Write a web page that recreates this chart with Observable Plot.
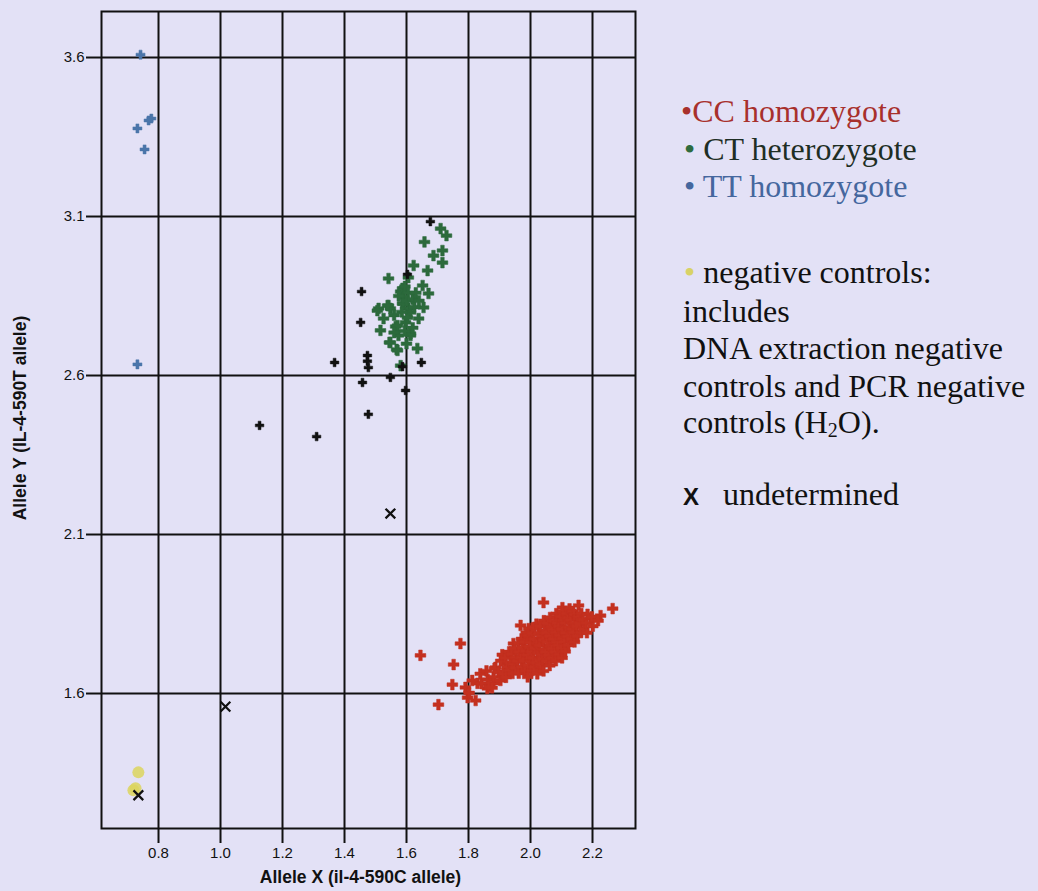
<!DOCTYPE html>
<html>
<head>
<meta charset="utf-8">
<script src="https://cdn.jsdelivr.net/npm/d3@7"></script>
<script src="https://cdn.jsdelivr.net/npm/@observablehq/plot@0.6"></script>
<style>
  html, body { margin: 0; padding: 0; background: #e3e1f6; }
  #wrap { position: relative; width: 1038px; height: 891px; overflow: hidden; }
  #chart { position: absolute; left: 0; top: 0; }
  .leg { position: absolute; font-family: "Liberation Serif", "Times New Roman", serif; font-size: 32px; line-height: 37px; white-space: nowrap; color: #111; }
  .bul { font-size: 32px; }
</style>
</head>
<body>
<div id="wrap">
  <div id="chart"></div>
  <div class="leg" style="left:681px;top:93px;color:#a8302c"><span class="bul">•</span>CC homozygote</div>
  <div class="leg" style="left:684px;top:131px;color:#1e2e24"><span class="bul" style="color:#2e6b3e">•</span> CT heterozygote</div>
  <div class="leg" style="left:684px;top:168px;color:#45679e"><span class="bul">•</span> TT homozygote</div>
  <div class="leg" style="left:684px;top:254px"><span class="bul" style="color:#d8d266">•</span> negative controls:</div>
  <div class="leg" style="left:683px;top:293px">includes</div>
  <div class="leg" style="left:683px;top:330px">DNA extraction negative</div>
  <div class="leg" style="left:683px;top:368px">controls and PCR negative</div>
  <div class="leg" style="left:683px;top:404px">controls (H<sub style="font-size:20px;vertical-align:-4px">2</sub>O).</div>
  <div class="leg" style="left:683px;top:476px"><span style="font-family:'Liberation Sans',Arial,sans-serif;font-weight:bold;font-size:24px">X</span>&nbsp;&nbsp; undetermined</div>
</div>
<script>
// ---- data ----
const xTicks = [0.8, 1.0, 1.2, 1.4, 1.6, 1.8, 2.0, 2.2];
const yTicks = [1.6, 2.1, 2.6, 3.1, 3.6];
const xLabel = "Allele X (il-4-590C allele)";
const yLabel = "Allele Y (IL-4-590T allele)";

// CC homozygote (red)
const ccPoints = [
  [2.042,1.886],[1.645,1.720],[1.774,1.757],[1.752,1.691],[1.748,1.628],[1.703,1.565],
  [2.265,1.867],[2.226,1.845],[2.194,1.836],[2.103,1.870],[2.155,1.877],[1.790,1.619],
  [1.797,1.587],[1.823,1.578],[1.829,1.632],[1.861,1.616],[1.881,1.632],[1.887,1.682],
  [1.919,1.694],[1.945,1.757],[1.968,1.814],[1.994,1.804],[1.802,1.602],[1.812,1.641],
  [1.842,1.631],[1.838,1.662],[1.862,1.644],[1.858,1.671],[1.866,1.622],
  [1.881,1.652],[1.884,1.679],[1.876,1.618],[1.903,1.641],[1.897,1.668],[1.904,1.703],
  [1.912,1.662],[1.909,1.722],[1.921,1.651],[1.924,1.683],[1.918,1.712],
  [1.933,1.672],[1.931,1.731],[1.936,1.698],[1.942,1.663],[1.944,1.691],[1.939,1.724],
  [1.951,1.681],[1.953,1.713],[1.948,1.742],[1.962,1.664],[1.958,1.702],[1.963,1.731],
  [1.961,1.758],[1.972,1.683],[1.969,1.712],[1.974,1.744],[1.971,1.772],
  [1.982,1.671],[1.978,1.703],[1.984,1.733],[1.981,1.762],[1.986,1.791],
  [1.991,1.652],[1.993,1.689],[1.989,1.721],[1.996,1.748],[1.992,1.783],
  [2.003,1.672],[2.001,1.701],[2.004,1.732],[1.999,1.761],[2.006,1.789],
  [2.012,1.683],[2.009,1.712],[2.014,1.741],[2.011,1.772],[2.013,1.808],
  [2.022,1.662],[2.018,1.698],[2.024,1.728],[2.021,1.757],[2.026,1.788],[2.019,1.818],
  [2.032,1.691],[2.034,1.722],[2.029,1.751],[2.036,1.781],[2.031,1.812],
  [2.042,1.671],[2.039,1.708],[2.044,1.738],[2.041,1.769],[2.046,1.798],[2.043,1.829],
  [2.052,1.702],[2.049,1.731],[2.054,1.762],[2.051,1.791],[2.056,1.822],
  [2.062,1.688],[2.059,1.719],[2.064,1.748],[2.061,1.781],[2.066,1.808],[2.063,1.839],
  [2.072,1.711],[2.069,1.742],[2.074,1.772],[2.071,1.801],[2.076,1.828],
  [2.082,1.703],[2.079,1.731],[2.084,1.761],[2.081,1.792],[2.086,1.821],[2.083,1.851],
  [2.092,1.722],[2.089,1.751],[2.094,1.782],[2.091,1.811],[2.096,1.842],
  [2.102,1.712],[2.099,1.741],[2.104,1.771],[2.101,1.802],[2.106,1.829],[2.103,1.858],
  [2.112,1.732],[2.109,1.762],[2.114,1.791],[2.111,1.822],[2.116,1.851],
  [2.122,1.752],[2.119,1.779],[2.124,1.808],[2.121,1.838],[2.126,1.866],
  [2.132,1.771],[2.134,1.803],[2.129,1.831],[2.136,1.858],
  [2.142,1.762],[2.139,1.792],[2.144,1.821],[2.141,1.849],
  [2.152,1.781],[2.149,1.812],[2.154,1.842],
  [2.162,1.792],[2.159,1.821],[2.164,1.851],
  [2.172,1.802],[2.169,1.832],[2.182,1.791],[2.179,1.822],[2.184,1.849],
  [2.201,1.812],[2.198,1.841],[2.218,1.829]
];

// CT heterozygote (green)
const ctPoints = [
  [1.710,3.062],[1.729,3.040],[1.716,2.993],[1.687,2.977],[1.716,2.955],[1.623,2.946],
  [1.542,2.905],[1.668,2.930],[1.606,2.908],[1.587,2.874],[1.652,2.883],[1.671,2.858],
  [1.581,2.864],[1.590,2.845],[1.542,2.820],[1.510,2.811],[1.655,2.814],[1.587,2.826],
  [1.606,2.811],[1.548,2.811],[1.613,2.798],[1.526,2.779],[1.516,2.742],[1.565,2.754],
  [1.613,2.726],[1.574,2.726],[1.545,2.704],[1.568,2.682],[1.635,2.685],[1.581,2.631],
  [1.597,2.767],[1.603,2.782],[1.639,2.779],[1.506,2.804],[1.539,2.820],[1.590,2.826],
  [1.571,2.757],[1.613,2.732],[1.548,2.704],[1.571,2.679],[1.595,2.880],[1.605,2.860],
  [1.600,2.835],[1.575,2.850],[1.620,2.840],[1.630,2.860],[1.585,2.800],[1.560,2.790],
  [1.625,2.815],[1.640,2.835],[1.595,2.740],[1.560,2.735],[1.600,2.700],[1.620,2.750],
  [1.658,3.020]
];

// TT homozygote (blue)
const ttPoints = [
  [0.742,3.609],[0.777,3.408],[0.768,3.402],[0.732,3.377],[0.755,3.311],[0.732,2.635]
];

// negative controls (yellow)
const negPoints = [[0.735,1.352],[0.719,1.296],[0.726,1.302]];

// undetermined (x)
const undPoints = [[1.016,1.559],[1.548,2.166],[0.735,1.280]];

// unassigned samples (black)
const blackPoints = [
  [1.677,3.084],[1.455,2.864],[1.452,2.767],[1.603,2.918],[1.368,2.641],[1.474,2.663],
  [1.474,2.645],[1.477,2.625],[1.458,2.578],[1.477,2.478],[1.126,2.443],[1.310,2.408],
  [1.548,2.594],[1.597,2.553],[1.587,2.628],[1.648,2.641]
];

// ---- chart ----
const dotOpts = (color, r) => ({
  x: d => d[0], y: d => d[1], symbol: "cross", r, fill: color,
  stroke: color, strokeWidth: 1, strokeOpacity: 0.5
});

const chart = Plot.plot({
  width: 650,
  height: 891,
  marginLeft: 101,
  marginRight: 15,
  marginTop: 11,
  marginBottom: 63,
  style: { background: "transparent", fontFamily: "'Liberation Sans', Arial, sans-serif", fontSize: "15px", color: "#111" },
  x: { domain: [0.6161, 2.3387] },
  y: { domain: [1.1755, 3.7447] },
  marks: [
    Plot.gridX(xTicks, { stroke: "#111", strokeOpacity: 1, strokeWidth: 2 }),
    Plot.gridY(yTicks, { stroke: "#111", strokeOpacity: 1, strokeWidth: 2 }),
    Plot.frame({ stroke: "#111", strokeWidth: 2 }),
    Plot.axisX(xTicks, { tickSize: 15, tickPadding: 4, fontSize: 15, stroke: "#111", strokeWidth: 2, tickFormat: d => d.toFixed(1), label: null }),
    Plot.axisY(yTicks, { tickSize: 15, tickPadding: 2, fontSize: 15, stroke: "#111", strokeWidth: 2, tickFormat: d => d.toFixed(1), label: null }),
    Plot.text([xLabel], { text: d => d, frameAnchor: "bottom", textAnchor: "middle", lineAnchor: "middle", dy: 49, dx: -8, fontSize: 17.5, fontWeight: "bold", fill: "#111" }),
    Plot.text([yLabel], { text: d => d, frameAnchor: "left", textAnchor: "middle", lineAnchor: "middle", dx: -81, dy: -2, rotate: -90, fontSize: 17.5, fontWeight: "bold", fill: "#111" }),
    Plot.dot(negPoints, { x: d => d[0], y: d => d[1], r: 6, fill: "#dcd55e", fillOpacity: 0.85 }),
    Plot.dot(ccPoints, dotOpts("#c4301f", 4.5)),
    Plot.dot(ctPoints, dotOpts("#2c6a3c", 4.5)),
    Plot.dot(ttPoints, dotOpts("#4a75aa", 3.8)),
    Plot.dot(blackPoints, dotOpts("#111", 3.6)),
    Plot.dot(undPoints, { x: d => d[0], y: d => d[1], symbol: "times", r: 4.5, stroke: "#111", strokeWidth: 2.2 })
  ]
});
document.getElementById("chart").appendChild(chart);
</script>
</body>
</html>
